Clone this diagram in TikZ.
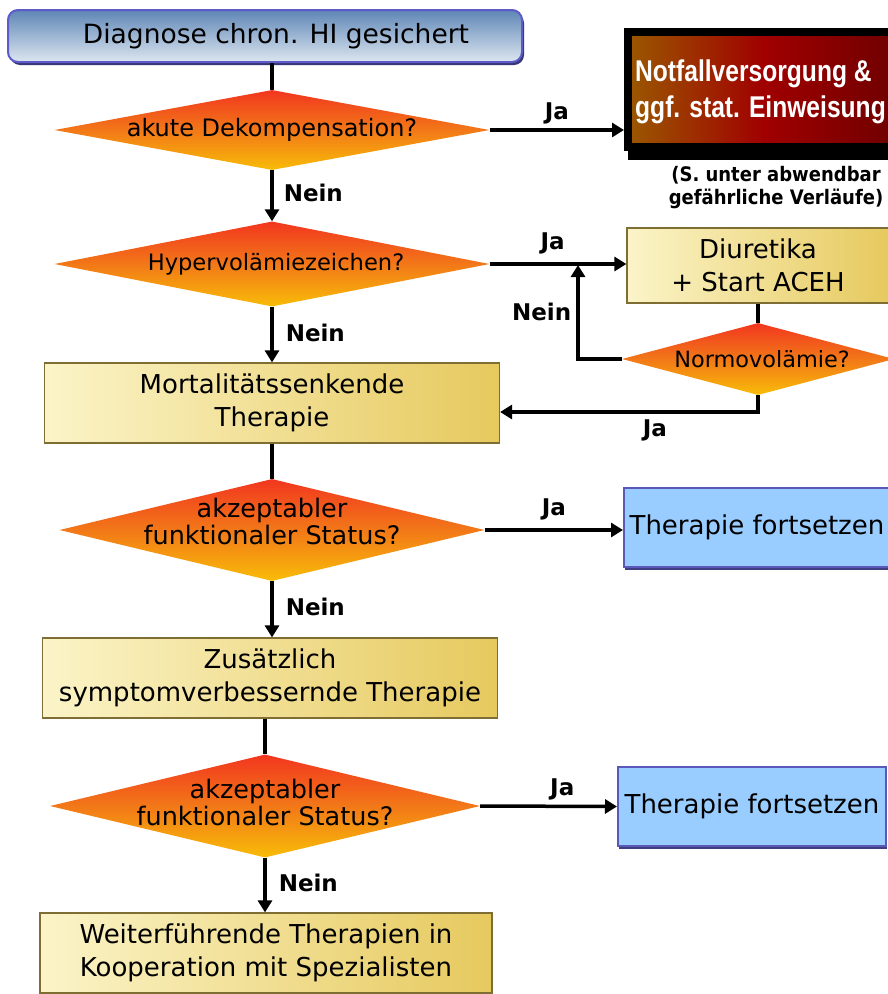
\documentclass[tikz,border=0pt]{standalone}
\usepackage{fontspec}
\setmainfont{DejaVu Sans}
\newfontfamily\alarmfont[FakeStretch=0.82]{Liberation Sans}
\newfontfamily\notefont[FakeStretch=0.9]{DejaVu Sans}
\usetikzlibrary{shapes.geometric,arrows.meta,shadows}

\definecolor{diamtop}{HTML}{F2361F}
\definecolor{diammid}{HTML}{F27818}
\definecolor{diambot}{HTML}{F8BC08}
\definecolor{boxlight}{HTML}{FBF4C8}
\definecolor{boxdark}{HTML}{E6C95E}
\definecolor{boxrim}{HTML}{7E6E34}
\definecolor{skyfill}{HTML}{99CCFF}
\definecolor{skyrim}{HTML}{5A58B8}
\definecolor{topdark}{HTML}{5F86B6}
\definecolor{toplight}{HTML}{DCE6F0}
\definecolor{toprim}{HTML}{5E5AC8}
\definecolor{redleft}{HTML}{9A5800}
\definecolor{redmid}{HTML}{A00000}
\definecolor{redright}{HTML}{6E0000}

\begin{document}
\begin{tikzpicture}[x=1pt,y=-1pt,
    >={Triangle[length=12pt,width=14pt]},
    conn/.style={line width=3.5pt},
    decision/.style={diamond,inner sep=0pt,top color=diamtop,bottom color=diambot,middle color=diammid},
    dtext/.style={font=\fontsize{24}{27}\selectfont,align=center,inner sep=0pt},
    yellowbox/.style={rectangle,draw=boxrim,line width=1.2pt,left color=boxlight,right color=boxdark,
        minimum width=455,minimum height=80,align=center,font=\fontsize{26}{33}\selectfont},
    skybox/.style={rectangle,draw=skyrim,line width=2pt,fill=skyfill,minimum height=79,
        font=\fontsize{26}{32}\selectfont,
        drop shadow={shadow xshift=1pt,shadow yshift=-3pt,fill=skyrim!70!black,opacity=1}},
    yesno/.style={font=\bfseries\fontsize{23}{26}\selectfont,inner sep=0pt}]

\fill[white] (0,0) rectangle (888,994);
\useasboundingbox (0,0) rectangle (888,994);

% main column
\node[rectangle,rounded corners=10pt,draw=toprim,line width=2pt,top color=topdark,bottom color=toplight,
    minimum width=514,minimum height=52,
    drop shadow={shadow xshift=2pt,shadow yshift=-3pt,fill=toprim!60!black,opacity=1},
    label={[font=\fontsize{26.5}{30}\selectfont,xshift=11pt]center:Diagnose chron. HI gesichert}]
    (diag) at (265,36) {};
\node[decision,minimum width=435,minimum height=80,
    label={[dtext]center:akute Dekompensation?}] (dekomp) at (272,130) {};
\node[decision,minimum width=435,minimum height=85,
    label={[dtext,font=\fontsize{22.6}{27}\selectfont,xshift=4pt]center:Hypervolämiezeichen?}] (hyper) at (272,264) {};
\node[yellowbox] (mort) at (272,403) {Mortalitätssenkende\\Therapie};
\node[decision,minimum width=425,minimum height=102,
    label={[dtext,font=\fontsize{25.5}{27}\selectfont,yshift=9pt]center:akzeptabler\\funktionaler Status?}] (status1) at (272,530) {};
\node[yellowbox] (zusatz) at (270,678) {Zusätzlich\\symptomverbessernde Therapie};
\node[decision,minimum width=430,minimum height=103,
    label={[dtext,font=\fontsize{25.5}{27}\selectfont,yshift=4pt]center:akzeptabler\\funktionaler Status?}] (status2) at (265,806) {};
\node[yellowbox,minimum width=452] (weiter) at (266,953) {Weiterführende Therapien in\\Kooperation mit Spezialisten};

% right column
\node[rectangle,draw=black,line width=8pt,left color=redleft,right color=redright,middle color=redmid,
    minimum width=272,minimum height=115,
    drop shadow={shadow xshift=0pt,shadow yshift=-13pt,fill=black,opacity=1}] (notfall) at (764,89.5) {};
\node[anchor=west,align=left,inner sep=0pt,text=white,font=\alarmfont\bfseries\fontsize{30}{36}\selectfont]
    (notfalltext) at (635,92) {Notfallversorgung \&\\ggf. stat. Einweisung};
\node[align=center,inner sep=0pt,font=\notefont\bfseries\fontsize{20}{23}\selectfont]
    (hinweis) at (776,188) {(S. unter abwendbar\\gefährliche Verläufe)};
\node[yellowbox,minimum width=262,minimum height=75] (diur) at (758,265.5) {Diuretika\\+ Start ACEH};
\node[decision,minimum width=272,minimum height=72,
    label={[dtext,font=\fontsize{22.4}{27}\selectfont,xshift=4pt]center:Normovolämie?}] (normo) at (758,359) {};
\node[skybox,minimum width=266] (fort1) at (757,527.5) {Therapie fortsetzen};
\node[skybox,minimum width=268] (fort2) at (752,806.5) {Therapie fortsetzen};
\coordinate (merge) at (578,265);

% connectors
\draw[conn] (diag.south -| dekomp.north) -- (dekomp.north);
\draw[conn,->] (dekomp.east) -- (dekomp.east -| notfall.west) node[yesno,midway,above=4pt] {Ja};
\draw[conn,->] (dekomp.south) -- (hyper.north) node[yesno,midway,right=10pt,yshift=3pt] {Nein};
\draw[conn,->] (hyper.east) -- (hyper.east -| diur.west) node[yesno,pos=0.46,above=8pt] {Ja};
\draw[conn] (diur.south) -- (normo.north);
\draw[conn,->] (normo.west) -| (merge) node[yesno,pos=0.75,left=5pt] {Nein};
\draw[conn,->] (normo.south) |- ([yshift=-9pt]mort.east) node[yesno,pos=0.7,below=6pt] {Ja};
\draw[conn,->] (hyper.south) -- (mort.north) node[yesno,midway,right=12pt,yshift=2pt] {Nein};
\draw[conn] (mort.south) -- (status1.north);
\draw[conn,->] (status1.east) -- (status1.east -| fort1.west) node[yesno,midway,above=8pt] {Ja};
\draw[conn,->] (status1.south) -- (status1.south |- zusatz.north) node[yesno,midway,right=12pt,yshift=2pt] {Nein};
\draw[conn] (zusatz.south -| status2.north) -- (status2.north);
\draw[conn,->] (status2.east) -- (fort2.west) node[yesno,pos=0.6,above=4pt] {Ja};
\draw[conn,->] (status2.south) -- (status2.south |- weiter.north) node[yesno,midway,right=12pt,yshift=2pt] {Nein};
\end{tikzpicture}
\end{document}
